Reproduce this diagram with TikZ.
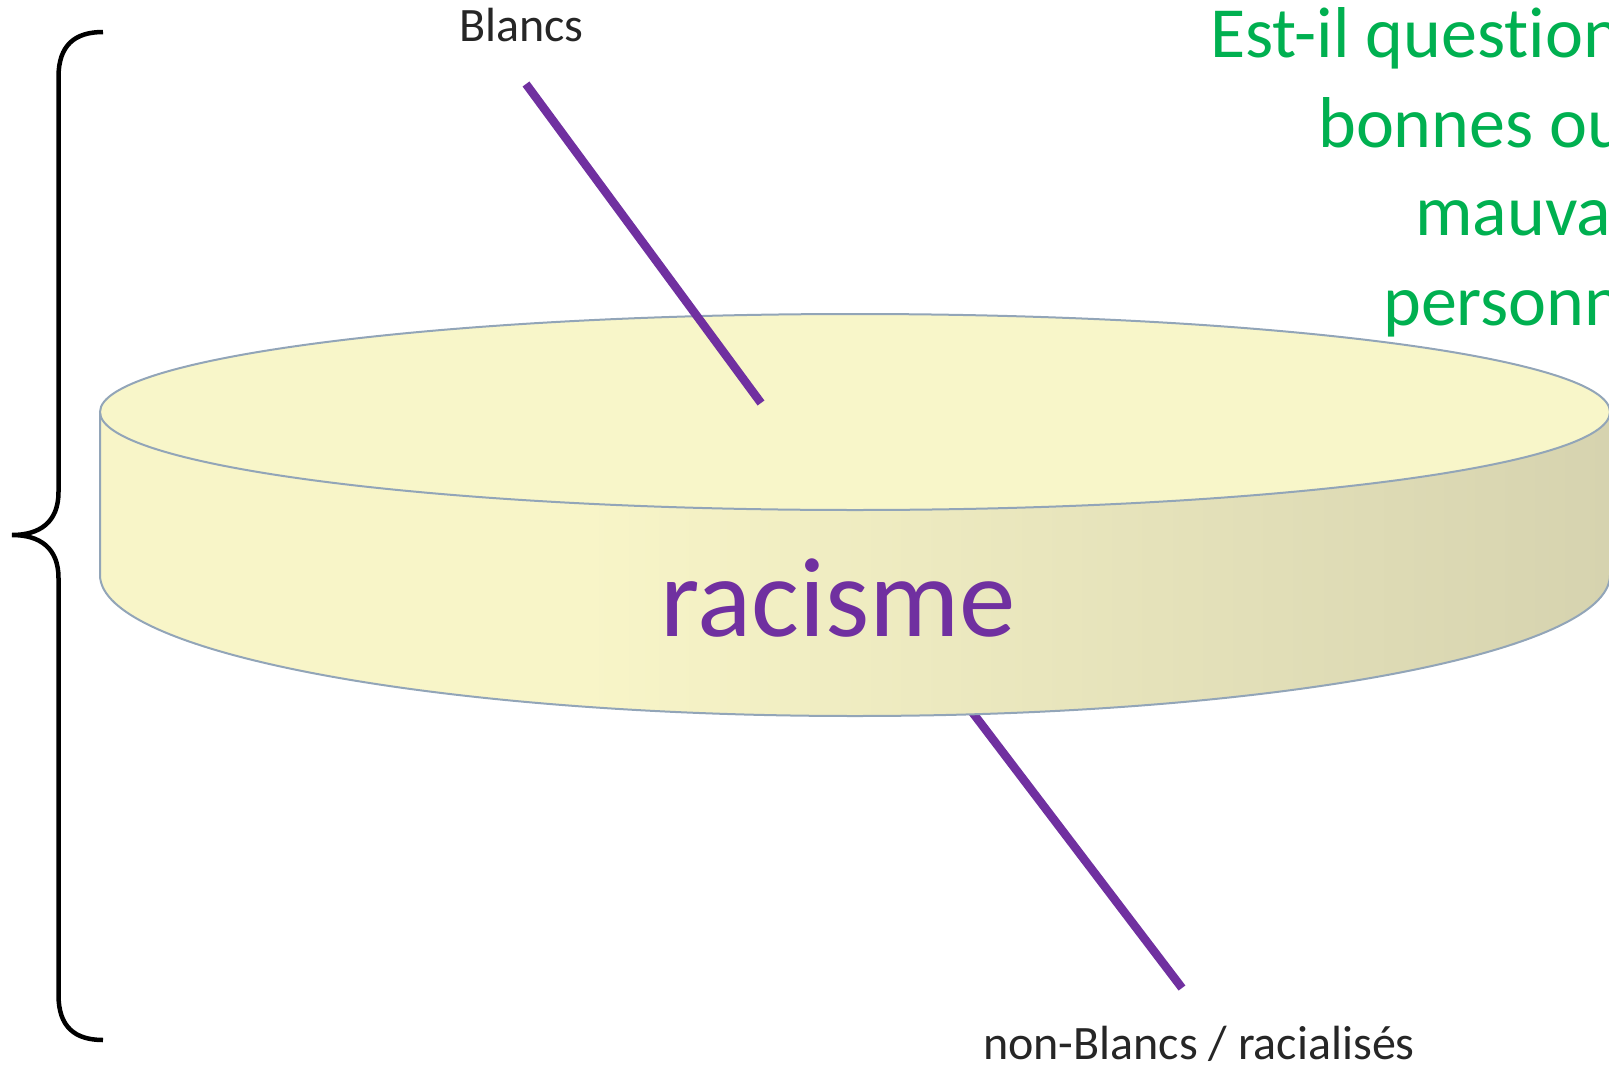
\documentclass[tikz,border=0pt]{standalone}
\usepackage{fontspec}
\setmainfont{Carlito}[Ligatures={NoCommon}]
\definecolor{purp}{HTML}{7030A0}
\definecolor{grn}{HTML}{00B050}
\definecolor{sideL}{HTML}{F8F5C8}
\definecolor{sideR}{HTML}{D6D3AF}
\definecolor{topC}{HTML}{F8F6C9}
\definecolor{rimC}{HTML}{92A5B8}
\definecolor{txt}{HTML}{262626}
\pgfdeclarehorizontalshading{sideshade}{100bp}{color(0bp)=(sideL); color(25bp)=(sideL); color(41bp)=(sideL); color(75bp)=(sideR); color(100bp)=(sideR)}
\begin{document}
\begin{tikzpicture}[x=1pt,y=-1pt,
  purpline/.style={purp, line width=8.5pt, line cap=butt},
  rim/.style={rimC, line width=2pt},
  bracestyle/.style={black, line width=4.5pt},
  smalltxt/.style={txt, font=\fontsize{48}{58}\selectfont, inner sep=0pt},
  greentxt/.style={grn, font=\fontsize{72}{88}\selectfont, inner sep=0pt},
  bigtxt/.style={purp, font=\fontsize{113}{136}\selectfont, inner sep=0pt}]
\path[use as bounding box] (0,0) rectangle (1609,1068);
\clip (0,0) rectangle (1609,1068);

% coordinates for connector ends
\coordinate (upA) at (526,84);
\coordinate (upB) at (761,403);
\coordinate (lowA) at (925,650);
\coordinate (lowB) at (1182,988);

% lower purple line (behind the disc)
\draw[purpline] (lowA) -- (lowB);

% cylinder side
\shade[shading=sideshade] (100,412) -- (100,575)
  arc[start angle=180, end angle=360, x radius=755pt, y radius=141pt]
  -- (1610,412)
  arc[start angle=0, end angle=-180, x radius=755pt, y radius=98pt] -- cycle;
\draw[rim] (100,412) -- (100,575)
  arc[start angle=180, end angle=360, x radius=755pt, y radius=141pt]
  -- (1610,412);
% top face
\fill[topC] (855,412) ellipse[x radius=755pt, y radius=98pt];
\draw[rim] (855,412) ellipse[x radius=755pt, y radius=98pt];

% upper purple line
\draw[purpline] (upA) -- (upB);

% brace
\draw[bracestyle] (103,32) .. controls (75,32) and (58.5,45) .. (58.5,77)
  -- (58.5,492) .. controls (58.5,522) and (40,535) .. (12,535)
  .. controls (40,535) and (58.5,548) .. (58.5,578)
  -- (58.5,995) .. controls (58.5,1027) and (75,1040) .. (103,1040);

% texts
\node[smalltxt, anchor=base west] (blancs) at (459,41) {Blancs};
\node[smalltxt, anchor=base west] (nonblancs) at (983,1059) {non-Blancs / racialisés};
\node[bigtxt, anchor=base] (racisme) at (838,636) {racisme};
\node[greentxt, anchor=base west] (q1) at (1210,57) {Est-il question de};
\node[greentxt, anchor=base west] (q2) at (1318,147) {bonnes ou de};
\node[greentxt, anchor=base west] (q3) at (1415,235) {mauvaises};
\node[greentxt, anchor=base west] (q4) at (1383,325) {personnes ?};
\end{tikzpicture}
\end{document}
